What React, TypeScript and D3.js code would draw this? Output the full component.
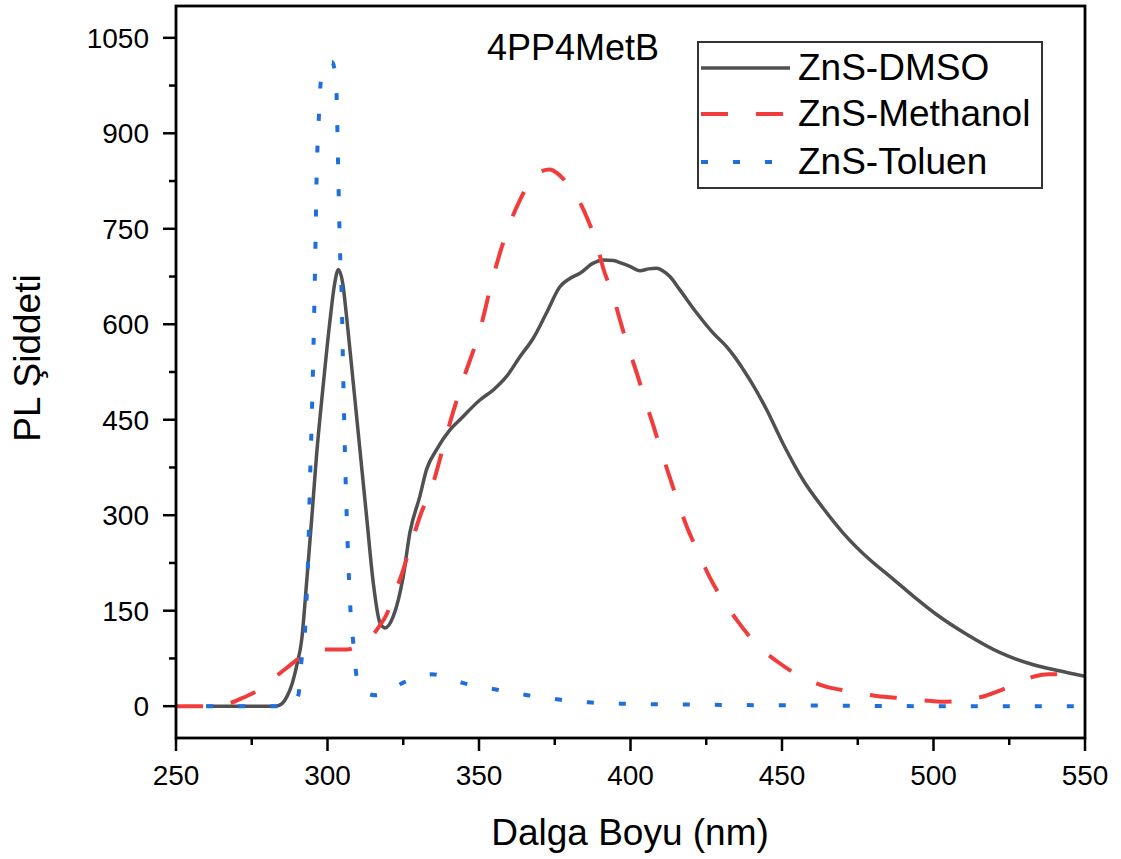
import React from "react";
import * as d3 from "d3";

const dmsoX = [260, 270, 280, 283, 285, 286.6, 288.3, 289.8, 291.5, 293.1, 294.8, 296.4, 298.6, 300.8, 302.3, 303.6, 305, 306.3, 308.5, 310.7, 312.9, 315.1, 317.3, 319, 321.7, 325, 327.2, 330.5, 332.7, 336, 340.4, 343.7, 350.3, 355, 359.1, 363.5, 367.9, 372.3, 376.7, 380, 383.3, 387.7, 391, 394.3, 397, 399.8, 403.1, 406, 408.6, 411, 413, 416.3, 421.8, 427.3, 431.7, 434.5, 437.2, 440, 444.9, 450.4, 457, 463.6, 470.2, 479, 485.6, 493.3, 501, 510.9, 522, 533, 541, 550];
const dmsoY = [0, 0, 0, 0, 4, 15, 35, 63, 105, 194, 295, 395, 505, 605, 662, 686, 665, 612, 508, 403, 298, 194, 131, 123, 141, 204, 273, 330, 372, 403, 434, 450, 481, 498, 518, 549, 578, 618, 659, 672, 680, 696, 701, 700, 696, 691, 684, 687, 688, 683, 675, 654, 618, 586, 565, 548, 529, 508, 466, 412, 355, 311, 272, 230, 204, 173, 144, 113, 84, 65, 56, 47];

const methX = [250, 258, 264, 268, 272, 275.6, 279, 283, 286.5, 290, 293, 296, 298, 306.3, 309, 312, 314.6, 317, 319.5, 321.5, 323.9, 327, 330.5, 334.9, 337.5, 340.4, 344.8, 350.3, 354.7, 360.2, 363.5, 366, 369, 373.4, 375.6, 379, 382.2, 385.5, 388.8, 391, 394.3, 396.5, 399.3, 402.1, 404.8, 407.6, 410.3, 413, 415.8, 418.5, 422.4, 426.2, 430.6, 435.6, 441.6, 448.2, 456, 464.2, 473, 481.2, 490.6, 499.4, 504, 508.2, 512, 517, 521, 525.2, 529, 533.5, 538, 542.7, 546, 550];
const methY = [0, 0, 1, 5, 13, 21, 32, 47, 60, 73, 82, 88, 89, 89, 92, 100, 110, 125, 144, 170, 199, 245, 298, 351, 395, 445, 513, 591, 675, 759, 795, 818, 837, 843, 838, 822, 801, 769, 727, 688, 644, 607, 563, 523, 481, 440, 398, 359, 319, 283, 241, 202, 166, 132, 97, 71, 47, 31, 23, 16, 12, 8, 7, 8, 11, 16, 23, 31, 39, 47, 50, 50, 48, 47];

const tolX = [260, 270, 280, 285, 288, 290.4, 291.4, 292.6, 293.1, 293.7, 294.2, 294.8, 295.4, 295.9, 296.4, 297.2, 297.8, 299, 300.5, 301.5, 302.5, 303, 303.5, 304.1, 304.7, 305.1, 305.5, 306, 306.4, 307.1, 307.6, 308.5, 309.6, 311, 313, 316.2, 320, 325, 330, 334.4, 340, 344.3, 350, 354.7, 360, 365.2, 370, 375.6, 380, 386.1, 396.5, 410, 430, 460, 500, 550];
const tolY = [0, 0, 0, 0, 3, 18, 71, 120, 170, 247, 349, 450, 570, 690, 829, 930, 982, 1003, 1012, 1012, 995, 960, 850, 720, 640, 540, 450, 353, 290, 199, 149, 100, 47, 28, 20, 17, 24, 37, 46, 50, 44, 37, 31, 27, 22, 18, 14, 11, 8, 6, 4, 3, 2, 1, 0, 0];

const xTicks = [250, 300, 350, 400, 450, 500, 550];
const xMinor = [275, 325, 375, 425, 475, 525];
const yTicks = [0, 150, 300, 450, 600, 750, 900, 1050];
const yMinor = [75, 225, 375, 525, 675, 825, 975];

const seriesNames = ["ZnS-DMSO", "ZnS-Methanol", "ZnS-Toluen"];
const seriesColors = ["#505050", "#f23c3c", "#1f6ee0"];

const FONT = "'Liberation Sans', Arial, Helvetica, sans-serif";

export default function App() {
  const left = 176, right = 1085, top = 6, bottom = 738;
  const x = d3.scaleLinear().domain([250, 550]).range([left, right]);
  const y = d3.scaleLinear().domain([-50, 1100]).range([bottom, top]);
  const line = d3
    .line<[number, number]>()
    .x((d) => x(d[0]))
    .y((d) => y(d[1]))
    .curve(d3.curveMonotoneX);

  const zip = (xs: number[], ys: number[]) => xs.map((v, i) => [v, ys[i]] as [number, number]);
  const series = [
    { data: zip(dmsoX, dmsoY), dash: undefined as string | undefined, width: 3.5 },
    { data: zip(methX, methY), dash: "27,28", width: 4 },
    { data: zip(tolX, tolY), dash: "7,25", width: 4 },
  ];

  const legendRows = [68, 114, 162];

  return (
    <svg
      width={1121}
      height={859}
      style={{ position: "absolute", left: 0, top: 0, background: "#fff" }}
      fontFamily={FONT}
    >
      <rect x={0} y={0} width={1121} height={859} fill="#fff" />
      <defs>
        <clipPath id="plotclip">
          <rect x={left} y={top} width={right - left} height={bottom - top} />
        </clipPath>
      </defs>
      <g clipPath="url(#plotclip)">
        {series.map((s, i) => (
          <path
            key={i}
            d={line(s.data) || ""}
            fill="none"
            stroke={seriesColors[i]}
            strokeWidth={s.width}
            strokeDasharray={s.dash}
            strokeLinejoin="round"
          />
        ))}
      </g>
      <rect x={left} y={top} width={right - left} height={bottom - top} fill="none" stroke="#000" strokeWidth={2.8} />
      {xTicks.map((t) => (
        <g key={"xt" + t}>
          <line x1={x(t)} x2={x(t)} y1={bottom} y2={bottom + 13} stroke="#000" strokeWidth={2.5} />
          <text x={x(t)} y={785} textAnchor="middle" fontSize={28} fill="#000">
            {t}
          </text>
        </g>
      ))}
      {xMinor.map((t) => (
        <line key={"xm" + t} x1={x(t)} x2={x(t)} y1={bottom} y2={bottom + 7} stroke="#000" strokeWidth={2.5} />
      ))}
      {yTicks.map((t) => (
        <g key={"yt" + t}>
          <line x1={left - 13} x2={left} y1={y(t)} y2={y(t)} stroke="#000" strokeWidth={2.5} />
          <text x={149} y={y(t)} dy="0.36em" textAnchor="end" fontSize={28} fill="#000">
            {t}
          </text>
        </g>
      ))}
      {yMinor.map((t) => (
        <line key={"ym" + t} x1={left - 7} x2={left} y1={y(t)} y2={y(t)} stroke="#000" strokeWidth={2.5} />
      ))}
      <text x={630} y={845} textAnchor="middle" fontSize={37} fill="#000">
        Dalga Boyu (nm)
      </text>
      <text
        transform={`translate(40, 358) rotate(-90)`}
        textAnchor="middle"
        fontSize={37}
        fill="#000"
      >
        PL Şiddeti
      </text>
      <text x={487} y={60} fontSize={36} fill="#000">
        4PP4MetB
      </text>
      <rect x={698} y={42} width={344} height={146} fill="#fff" stroke="#333" strokeWidth={2} />
      {seriesNames.map((n, i) => (
        <g key={n}>
          <line
            x1={701}
            x2={790}
            y1={legendRows[i]}
            y2={legendRows[i]}
            stroke={seriesColors[i]}
            strokeWidth={series[i].width}
            strokeDasharray={series[i].dash}
          />
          <text x={798} y={legendRows[i] + 12} fontSize={37} fill="#000">
            {n}
          </text>
        </g>
      ))}
    </svg>
  );
}
